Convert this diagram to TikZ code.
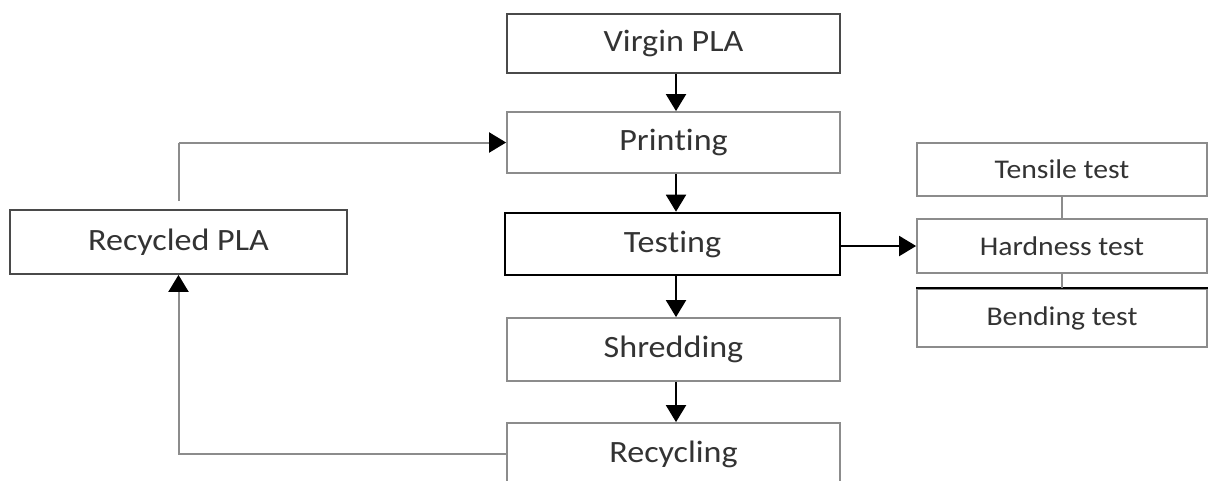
\documentclass[tikz,border=0pt]{standalone}
\usepackage{fontspec}
\setmainfont{Carlito}[FakeStretch=1.1,Ligatures=NoCommon]
\usetikzlibrary{arrows.meta,calc}
\definecolor{txt}{HTML}{333333}
\definecolor{lgray}{HTML}{8C8C8C}
\definecolor{mgray}{HTML}{4A4A4A}
\tikzset{
  x=1pt, y=-1pt,
  box/.style={draw=lgray, line width=1.8pt, rectangle, text=txt, font=\fontsize{31}{36}\selectfont, inner sep=0pt},
  smallbox/.style={box, font=\fontsize{27}{32}\selectfont},
  arr/.style={-{Triangle[width=20pt,length=17pt]}, line width=2pt, draw=black},
  garr/.style={-{Triangle[width=20pt,length=17pt,color=black]}, line width=2pt, draw=lgray},
  gline/.style={line width=2pt, draw=lgray}
}
\begin{document}
\begin{tikzpicture}
\useasboundingbox (0,0) rectangle (1214,480);
\fill[white] (0,0) rectangle (1214,480);
\node[box, draw=mgray, minimum width=333pt, minimum height=59pt] (virgin) at (673.5,43.5) {Virgin PLA};
\node[box, minimum width=333pt, minimum height=61pt] (print) at (673.5,142.5) {Prin\kern0pt ting};
\node[box, draw=black, line width=2.6pt, minimum width=335pt, minimum height=62pt] (test) at (672.5,244) {Tes\kern0pt ting};
\node[box, minimum width=333pt, minimum height=63pt] (shred) at (673.5,349.5) {Shredding};
\node[box, minimum width=333pt, minimum height=62pt] (recyc) at (673.5,454) {Recycling};
\node[box, draw=mgray, minimum width=337pt, minimum height=64pt] (rpla) at (178.5,242) {Recycled PLA};
\node[smallbox, minimum width=290pt, minimum height=53pt] (tens) at (1062,169.5) {Tensile test};
\node[smallbox, minimum width=290pt, minimum height=54pt] (hard) at (1062,246) {Hardness test};
\node[smallbox, minimum width=290pt, minimum height=58pt] (bend) at (1062,318) {Bending test};
\draw[black, line width=2.6pt] (bend.north west) -- (bend.north east);
\coordinate (cx) at (676,0);
\draw[arr] (cx |- virgin.south) -- (cx |- print.north);
\draw[arr] (cx |- print.south) -- (cx |- test.north);
\draw[arr] (cx |- test.south) -- (cx |- shred.north);
\draw[arr] (cx |- shred.south) -- (cx |- recyc.north);
\draw[arr] (test.east |- hard.west) -- (hard.west);
\draw[gline] (tens.south) -- (hard.north);
\draw[gline] (hard.south) -- (bend.north);
\coordinate (up) at ([yshift=8pt]rpla.north);
\draw[gline] (up) -- (up |- print.west);
\draw[garr] (up |- print.west) -- (print.west);
\draw[garr] (recyc.west) -| (rpla.south);
\end{tikzpicture}
\end{document}
